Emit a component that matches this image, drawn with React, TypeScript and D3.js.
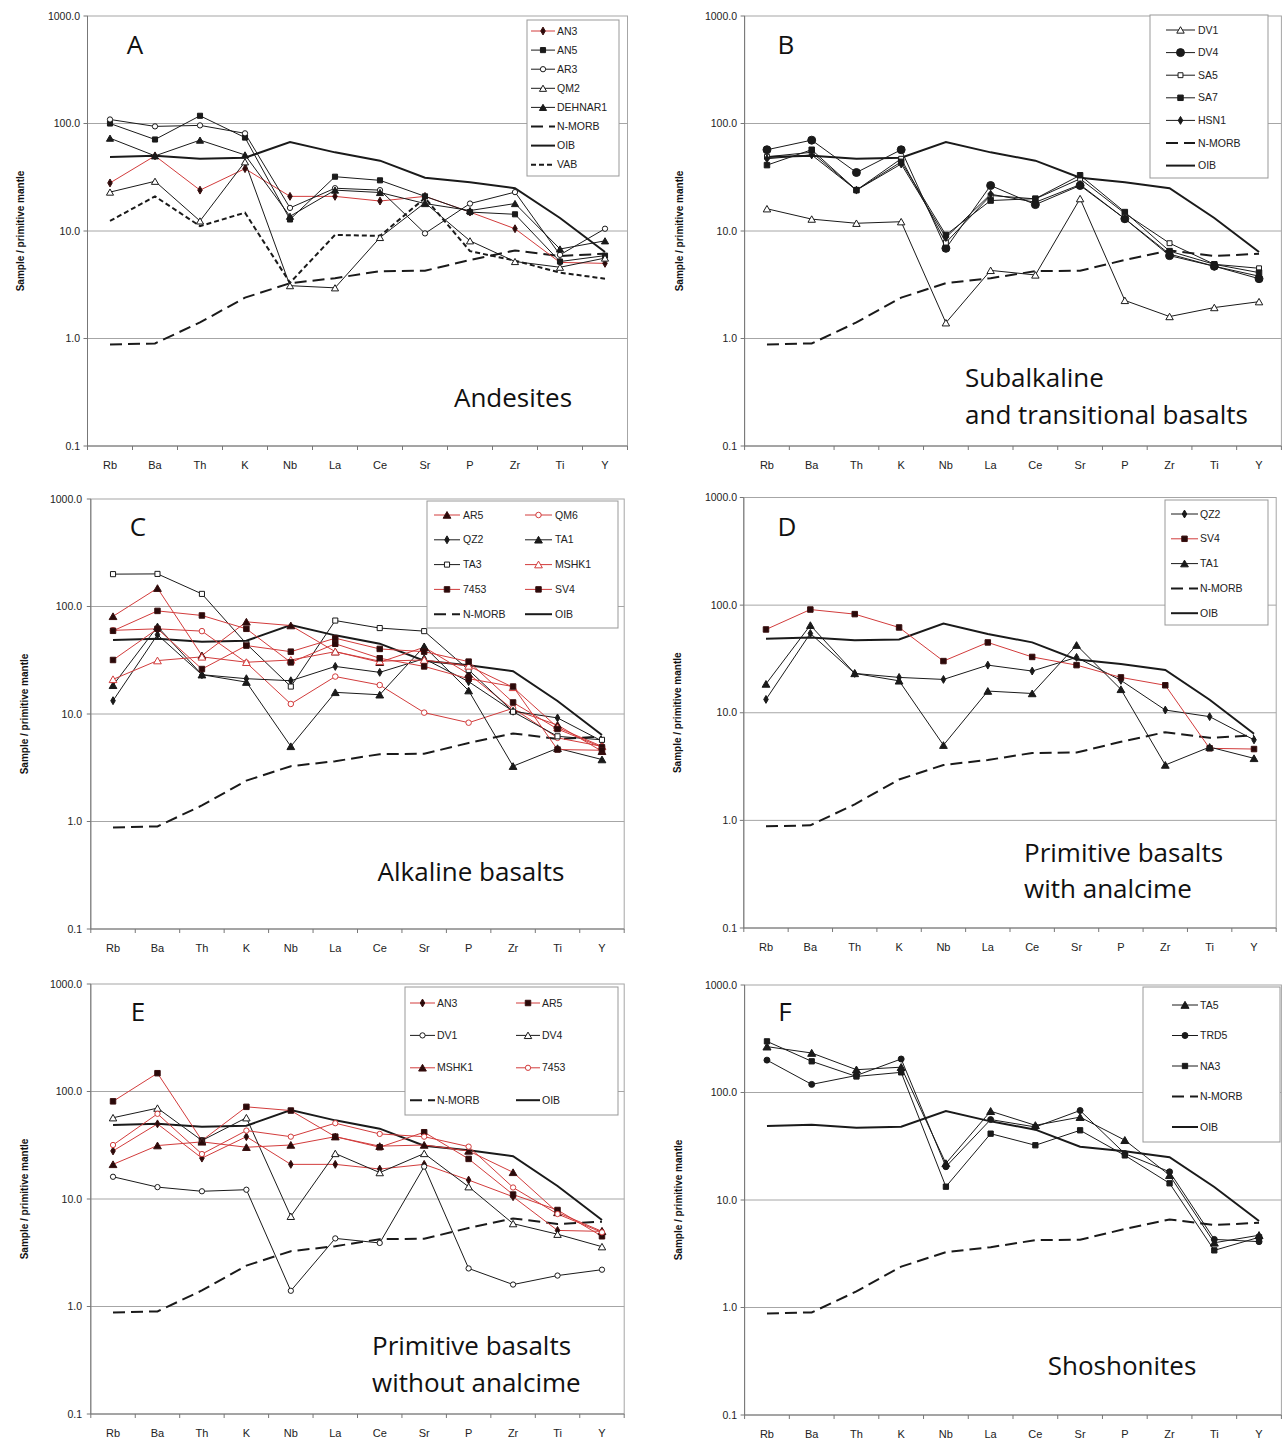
import React from "react";
import * as d3 from "d3";

const ELEMENTS = ["Rb", "Ba", "Th", "K", "Nb", "La", "Ce", "Sr", "P", "Zr", "Ti", "Y"];
const Y_TICKS = [0.1, 1, 10, 100, 1000];

// reference patterns (primitive-mantle normalised)
const NMORB = [0.88, 0.9, 1.41, 2.4, 3.27, 3.64, 4.23, 4.27, 5.37, 6.6, 5.85, 6.15];
const OIB = [48.8, 50.1, 47.1, 48, 67.3, 53.9, 45.1, 31.3, 28.4, 25, 13.2, 6.37];
const VAB = [12.4, 21, 11.1, 14.8, 3.3, 9.2, 9.0, 20.3, 6.5, 5.3, 4.1, 3.6];

// samples
const AN3 = [28, 50, 24, 38, 21, 21, 19, 21, 15, 10.5, 5.1, 5.0];
const AN5 = [100, 71, 118, 74, 12.8, 32, 29.6, 21, 15, 14.3, 5.2, 5.9];
const AR3 = [109, 94, 96, 81, 16.4, 25, 24, 9.5, 18, 23, 6.0, 10.5];
const QM2 = [23, 29, 12.4, 44, 3.1, 2.96, 8.7, 18.3, 8.1, 5.2, 4.6, 5.6];
const DEHNAR1 = [73, 50, 70, 51, 13.7, 24, 22.8, 18, 15.5, 18, 6.8, 8.1];

const DV1 = [16.1, 12.9, 11.8, 12.2, 1.4, 4.3, 3.9, 20, 2.26, 1.6, 1.94, 2.2];
const DV4 = [57, 70, 35, 57, 6.9, 26.5, 17.6, 26.5, 13, 5.9, 4.7, 3.6];
const SA5 = [49, 54, 24, 47, 7.8, 21.4, 19.9, 30.6, 14.6, 7.7, 4.9, 4.5];
const SA7 = [41, 57, 24, 44, 9.2, 19.2, 20, 33, 15, 6.5, 4.9, 4.1];
const HSN1 = [47, 51, 24, 42, 8.7, 22, 18.5, 27, 13, 6.1, 4.7, 3.8];

const AR5 = [81, 148, 35, 72, 66.5, 38, 30.3, 41.8, 23.6, 11, 7.9, 4.5];
const QM6 = [60, 62, 59, 30, 12.4, 22.3, 18.6, 10.3, 8.3, 11.3, 6, 5];
const QZ2 = [13.3, 54.6, 23.2, 21.3, 20.4, 27.7, 24.4, 32.7, 20, 10.6, 9.2, 5.6];
const TA1 = [18.5, 65, 23.2, 19.8, 5.0, 15.9, 15.1, 42.5, 16.5, 3.27, 4.8, 3.77];
const TA3 = [200, 201, 131, 45, 18, 74, 63, 59, 25.7, 10.5, 6.2, 5.75];
const MSHK1 = [21, 31.4, 34, 30.3, 31.8, 38, 31, 31.8, 28, 17.7, 7.5, 5.0];
const S7453 = [31.8, 62, 26.2, 43.3, 38, 50.7, 40.3, 38, 30.7, 12.8, 7.25, 4.9];
const SV4 = [59.4, 91, 82.5, 62, 30.2, 45, 33, 27.7, 21.3, 18, 4.67, 4.6];

const TA5 = [267, 233, 163, 172, 21.9, 67, 49.5, 59, 36, 17, 4.0, 4.7];
const TRD5 = [200, 119, 144, 205, 20.4, 56, 47.8, 68, 27, 18.3, 4.3, 4.1];
const NA3 = [299, 195, 141, 154, 13.3, 41.4, 32.3, 44.5, 26, 14.3, 3.4, 4.5];

const RED = "#d23c3c";
const BLK = "#1a1a1a";
const GRID = "#a6a6a6";
const SANS = "'Liberation Sans', Arial, sans-serif";
const BIG = "'Open Sans', 'Liberation Sans', sans-serif";

type S = {
  name: string; values: number[]; color: string; marker?: string; filled?: boolean;
  size?: number; width?: number; dash?: string; mcolor?: string;
};

const nmorb: S = { name: "N-MORB", values: NMORB, color: BLK, width: 2, dash: "12,6" };
const oib: S = { name: "OIB", values: OIB, color: BLK, width: 2 };
const vab: S = { name: "VAB", values: VAB, color: BLK, width: 2, dash: "5,3" };

const mk = (name: string, values: number[], color: string, marker: string, filled: boolean, size = 22): S =>
  ({ name, values, color, marker, filled, size, width: 1 });

type Panel = {
  letter: string; left: number; right: number; top: number; bottom: number;
  labelRight: number; titleX: number; letterX: number; letterY: number;
  texts: { t: string; x: number; y: number; anchor: string }[];
  series: S[];
  legend: { box: [number, number, number, number]; items: { s: S; x1: number; x2: number; tx: number; y: number }[] };
};

function rows(list: S[], ys: number[], x1: number, x2: number, tx: number) {
  return list.map((s, i) => ({ s, x1, x2, tx, y: ys[i] }));
}
const seq = (start: number, step: number, n: number) => d3.range(n).map((i) => start + i * step);

// Panel A
const aSeries = [
  mk("AN3", AN3, RED, "diamond", true, 18),
  mk("AN5", AN5, BLK, "square", true, 26),
  mk("AR3", AR3, BLK, "circle", false, 22),
  mk("QM2", QM2, BLK, "triangle", false, 22),
  mk("DEHNAR1", DEHNAR1, BLK, "triangle", true, 22),
];
// Panel B
const bSeries = [
  mk("DV1", DV1, BLK, "triangle", false, 24),
  mk("DV4", DV4, BLK, "circle", true, 50),
  mk("SA5", SA5, BLK, "square", false, 24),
  mk("SA7", SA7, BLK, "square", true, 30),
  mk("HSN1", HSN1, BLK, "diamond", true, 18),
];
// Panel C
const cSeries = [
  mk("AR5", AR5, RED, "triangle", true, 26),
  mk("QM6", QM6, RED, "circle", false, 24),
  mk("QZ2", QZ2, BLK, "diamond", true, 18),
  mk("TA1", TA1, BLK, "triangle", true, 26),
  mk("TA3", TA3, BLK, "square", false, 26),
  mk("MSHK1", MSHK1, RED, "triangle", false, 26),
  mk("7453", S7453, RED, "square", true, 30),
  mk("SV4", SV4, RED, "square", true, 30),
];
// Panel D
const dSeries = [
  mk("QZ2", QZ2, BLK, "diamond", true, 18),
  mk("SV4", SV4, RED, "square", true, 30),
  mk("TA1", TA1, BLK, "triangle", true, 26),
];
// Panel E
const eSeries = [
  mk("AN3", AN3, RED, "diamond", true, 18),
  mk("AR5", AR5, RED, "square", true, 30),
  mk("DV1", DV1, BLK, "circle", false, 22),
  mk("DV4", DV4, BLK, "triangle", false, 24),
  mk("MSHK1", MSHK1, RED, "triangle", true, 26),
  mk("7453", S7453, RED, "circle", false, 22),
];
// Panel F
const fSeries = [
  mk("TA5", TA5, BLK, "triangle", true, 28),
  mk("TRD5", TRD5, BLK, "circle", true, 28),
  mk("NA3", NA3, BLK, "square", true, 28),
];

const PANELS: Panel[] = [
  {
    letter: "A", left: 87.5, right: 627.5, top: 16, bottom: 446, labelRight: 80, titleX: 20,
    letterX: 135, letterY: 54,
    texts: [{ t: "Andesites", x: 513, y: 407, anchor: "middle" }],
    series: [nmorb, vab, oib, ...aSeries],
    legend: {
      box: [527, 20, 92, 156],
      items: rows([...aSeries, nmorb, oib, vab], seq(31, 19.1, 8), 531, 555, 557),
    },
  },
  {
    letter: "B", left: 744.6, right: 1281.4, top: 16, bottom: 446, labelRight: 737, titleX: 679,
    letterX: 786, letterY: 54,
    texts: [
      { t: "Subalkaline", x: 965, y: 387, anchor: "start" },
      { t: "and transitional basalts", x: 965, y: 424, anchor: "start" },
    ],
    series: [nmorb, oib, ...bSeries],
    legend: {
      box: [1150, 15, 118, 163],
      items: rows([...bSeries, nmorb, oib], seq(30, 22.6, 7), 1166, 1195, 1198),
    },
  },
  {
    letter: "C", left: 90.8, right: 624.2, top: 499, bottom: 929, labelRight: 82, titleX: 24,
    letterX: 138, letterY: 536,
    texts: [{ t: "Alkaline basalts", x: 471, y: 881, anchor: "middle" }],
    series: [nmorb, oib, ...cSeries],
    legend: {
      box: [427, 501, 191, 127],
      items: [
        ...rows([cSeries[0], cSeries[2], cSeries[4], cSeries[6], nmorb], seq(515, 24.8, 5), 434, 460, 463),
        ...rows([cSeries[1], cSeries[3], cSeries[5], cSeries[7], oib], seq(515, 24.8, 5), 525, 552, 555),
      ],
    },
  },
  {
    letter: "D", left: 743.8, right: 1276.2, top: 497.5, bottom: 928, labelRight: 737, titleX: 677,
    letterX: 787, letterY: 536,
    texts: [
      { t: "Primitive basalts", x: 1024, y: 862, anchor: "start" },
      { t: "with analcime", x: 1024, y: 898, anchor: "start" },
    ],
    series: [nmorb, oib, ...dSeries],
    legend: {
      box: [1165, 500, 103, 125],
      items: rows([...dSeries, nmorb, oib], seq(514, 24.8, 5), 1171, 1198, 1200),
    },
  },
  {
    letter: "E", left: 90.8, right: 624.2, top: 984, bottom: 1414, labelRight: 82, titleX: 24,
    letterX: 138, letterY: 1021,
    texts: [
      { t: "Primitive basalts", x: 372, y: 1355, anchor: "start" },
      { t: "without analcime", x: 372, y: 1392, anchor: "start" },
    ],
    series: [nmorb, oib, ...eSeries],
    legend: {
      box: [405, 987, 213, 128],
      items: [
        ...rows([eSeries[0], eSeries[2], eSeries[4], nmorb], seq(1003, 32.4, 4), 410, 435, 437),
        ...rows([eSeries[1], eSeries[3], eSeries[5], oib], seq(1003, 32.4, 4), 516, 540, 542),
      ],
    },
  },
  {
    letter: "F", left: 744.6, right: 1281.4, top: 985, bottom: 1415, labelRight: 737, titleX: 678,
    letterX: 785, letterY: 1021,
    texts: [{ t: "Shoshonites", x: 1122, y: 1375, anchor: "middle" }],
    series: [nmorb, oib, ...fSeries],
    legend: {
      box: [1143, 987, 137, 155],
      items: rows([...fSeries, nmorb, oib], seq(1005, 30.5, 5), 1172, 1198, 1200),
    },
  },
];

const SYM: Record<string, d3.SymbolType> = {
  diamond: d3.symbolDiamond,
  square: d3.symbolSquare,
  circle: d3.symbolCircle,
  triangle: d3.symbolTriangle,
};

function Marker({ s, x, y }: { s: S; x: number; y: number }) {
  if (!s.marker) return null;
  const path = d3.symbol().type(SYM[s.marker]).size(s.size || 22)() as string;
  const dy = s.marker === "triangle" ? 1 : 0;
  const stroke = s.color === RED ? (s.filled ? "#3a1010" : RED) : BLK;
  return (
    <path
      d={path}
      transform={`translate(${x},${y + dy})`}
      fill={s.filled ? (s.color === RED ? "#2a0a0a" : BLK) : "#fff"}
      stroke={stroke}
      strokeWidth={1}
    />
  );
}

function PanelView({ p }: { p: Panel }) {
  const x = d3.scalePoint<string>().domain(ELEMENTS).range([p.left, p.right]).padding(0.5);
  const y = d3.scaleLog().domain([0.1, 1000]).range([p.bottom, p.top]);
  const line = d3
    .line<number>()
    .x((_, i) => x(ELEMENTS[i]) as number)
    .y((v) => y(v));
  const step = x.step();
  const midY = (p.top + p.bottom) / 2;
  const [bx, by, bw, bh] = p.legend.box;
  return (
    <g>
      <rect x={p.left} y={p.top} width={p.right - p.left} height={p.bottom - p.top} fill="#fff" stroke={GRID} strokeWidth={1} />
      {Y_TICKS.slice(1, 4).map((t) => (
        <line key={t} x1={p.left} x2={p.right} y1={y(t)} y2={y(t)} stroke={GRID} strokeWidth={1} />
      ))}
      <line x1={p.left} x2={p.left} y1={p.top} y2={p.bottom} stroke="#777" strokeWidth={1} />
      <line x1={p.left} x2={p.right} y1={p.bottom} y2={p.bottom} stroke="#777" strokeWidth={1} />
      {Y_TICKS.map((t) => (
        <g key={"yt" + t}>
          <line x1={p.left - 4} x2={p.left} y1={y(t)} y2={y(t)} stroke="#777" />
          <text x={p.labelRight} y={y(t)} dy="0.35em" textAnchor="end" fontFamily={SANS} fontSize={10.5} fill="#222">
            {t.toFixed(1)}
          </text>
        </g>
      ))}
      {d3.range(ELEMENTS.length + 1).map((i) => (
        <line key={"xt" + i} x1={p.left + i * step} x2={p.left + i * step} y1={p.bottom} y2={p.bottom + 4} stroke="#777" />
      ))}
      {ELEMENTS.map((e) => (
        <text key={e} x={x(e)} y={p.bottom + 23} textAnchor="middle" fontFamily={SANS} fontSize={11} fill="#222">
          {e}
        </text>
      ))}
      <text
        transform={`translate(${p.titleX},${midY}) rotate(-90)`}
        textAnchor="middle"
        dy="0.35em"
        fontFamily={SANS}
        fontSize={10}
        fontWeight="bold"
        fill="#111"
      >
        Sample / primitive mantle
      </text>
      {p.series.map((s, k) => (
        <g key={"s" + k}>
          <path d={line(s.values) as string} fill="none" stroke={s.color} strokeWidth={s.width || 1} strokeDasharray={s.dash} />
        </g>
      ))}
      {p.series.map((s, k) => (
        <g key={"m" + k}>
          {s.values.map((v, i) => (
            <Marker key={i} s={s} x={x(ELEMENTS[i]) as number} y={y(v)} />
          ))}
        </g>
      ))}
      <text x={p.letterX} y={p.letterY} textAnchor="middle" fontFamily={BIG} fontSize={26} fill="#111">
        {p.letter}
      </text>
      {p.texts.map((t, i) => (
        <text key={i} x={t.x} y={t.y} textAnchor={t.anchor} fontFamily={BIG} fontSize={26} fill="#111">
          {t.t}
        </text>
      ))}
      <rect x={bx} y={by} width={bw} height={bh} fill="#fff" stroke="#999" strokeWidth={1} />
      {p.legend.items.map((it, i) => (
        <g key={"l" + i}>
          <line x1={it.x1} x2={it.x2} y1={it.y} y2={it.y} stroke={it.s.color} strokeWidth={it.s.width || 1} strokeDasharray={it.s.dash} />
          <Marker s={it.s} x={(it.x1 + it.x2) / 2} y={it.y} />
          <text x={it.tx} y={it.y} dy="0.35em" fontFamily={SANS} fontSize={10.5} fill="#222">
            {it.s.name}
          </text>
        </g>
      ))}
    </g>
  );
}

export default function App() {
  return (
    <svg
      width={1283}
      height={1442}
      style={{ position: "absolute", left: 0, top: 0, background: "#fff" }}
    >
      <rect x={0} y={0} width={1283} height={1442} fill="#fff" />
      {PANELS.map((p) => (
        <PanelView key={p.letter} p={p} />
      ))}
    </svg>
  );
}
